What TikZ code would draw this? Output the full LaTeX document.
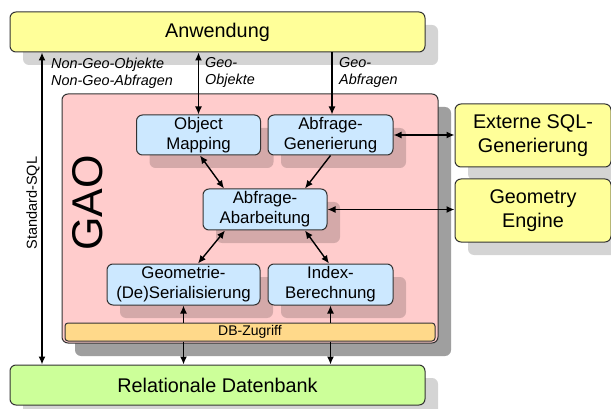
\documentclass[tikz,border=0pt]{standalone}
\usepackage{fontspec}
\setmainfont{Liberation Sans}
\usetikzlibrary{shadows,arrows.meta,calc}
\definecolor{cyel}{HTML}{FFFF99}
\definecolor{cpink}{HTML}{FFCCCC}
\definecolor{cblue}{HTML}{CCE8FF}
\definecolor{cgreen}{HTML}{CCFF99}
\definecolor{corange}{HTML}{FFD98A}
\definecolor{cline}{HTML}{333333}
\tikzset{
  box/.style={draw=cline, line width=1pt, rounded corners=6pt, inner sep=0pt, align=center,
    drop shadow={shadow xshift=13pt, shadow yshift=-13pt, opacity=0.17, fill=black}},
  bigfont/.style={font=\fontsize{19.8}{24}\selectfont},
  bigbox/.style={box, fill=cyel, bigfont},
  subbox/.style={box, fill=cblue, font=\fontsize{16.8}{20}\selectfont, minimum height=41pt},
  conn/.style={line width=1.4pt, black},
  biarr/.style={conn, {Latex[length=8pt,width=7pt]}-{Latex[length=8pt,width=7pt]}},
  onearr/.style={conn, -{Latex[length=8pt,width=7pt]}},
  lbl/.style={font=\fontsize{14.4}{17}\selectfont\itshape, align=left, inner sep=0pt}
}
\begin{document}
\begin{tikzpicture}[x=1pt,y=-1pt]
\useasboundingbox (0,0) rectangle (611,409);
% main boxes
\node[box, fill=cpink, minimum width=376pt, minimum height=249pt,
  drop shadow={shadow xshift=13pt, shadow yshift=-13pt, opacity=0.25, fill=black}] (gao) at (250,218.5) {};
\node[bigbox, minimum width=415pt, minimum height=40pt] (anw) at (217.5,32) {Anwendung};
\node[box, fill=cgreen, bigfont, minimum width=415pt, minimum height=40pt] (rel) at (217.5,385) {Relationale Datenbank};
\node[bigbox, minimum width=156pt, minimum height=63pt] (ext) at (533,135.5) {Externe SQL-\\Generierung};
\node[bigbox, minimum width=156pt, minimum height=63pt] (geo) at (533,210.5) {Geometry\\Engine};
% GAO label
\node[rotate=90, font=\fontsize{43}{43}\selectfont, inner sep=0pt] (gaolbl) at (88,203) {GAO};
% sub boxes
\node[subbox, minimum width=124pt, minimum height=40pt] (om) at (198.5,135) {Object\\Mapping};
\node[subbox, minimum width=125pt, minimum height=40pt] (ag) at (330.5,135) {Abfrage-\\Generierung};
\node[subbox, minimum width=124pt, minimum height=41pt] (aa) at (265,209.5) {Abfrage-\\Abarbeitung};
\node[subbox, minimum width=153pt, minimum height=41pt] (gs) at (183.5,284.5) {Geometrie-\\(De)Serialisierung};
\node[subbox, minimum width=125pt, minimum height=41pt] (idx) at (330.5,284.5) {Index-\\Berechnung};
\node[draw=cline, line width=1pt, rounded corners=3pt, fill=corange, minimum width=370pt, minimum height=18pt, inner sep=0pt, font=\fontsize{14}{16}\selectfont] (db) at (250,332) {DB-Zugriff};
% connectors
\coordinate (sqla) at (42,52);
\coordinate (sqlb) at (42,365);
\draw[biarr] (anw.south -| sqla) -- (rel.north -| sqlb);
\node[rotate=90, font=\fontsize{14.5}{17}\selectfont, inner sep=0pt] (sqllbl) at (33,203) {Standard-SQL};
\draw[biarr] (om.north |- anw.south) -- (om.north);
\coordinate (gq) at (332,0);
\draw[onearr] (anw.south -| gq) -- (ag.north -| gq);
\node[lbl, anchor=north west] (l1) at (51,57.5) {Non-Geo-Objekte\\Non-Geo-Abfragen};
\node[lbl, anchor=north west] (l2) at (205,57.5) {Geo-\\Objekte};
\node[lbl, anchor=north west] (l3) at (339,57.5) {Geo-\\Abfragen};
\draw[biarr] (ag.east) -- (ext.west |- ag.east);
\draw[biarr] (aa.east) -- (geo.west |- aa.east);
\draw[biarr] ($(om.south)+(1.5,0)$) -- ($(aa.north)+(-41,0)$);
\draw[onearr] ($(ag.south)+(0,0)$) -- ($(aa.north)+(40,0)$);
\draw[biarr] ($(aa.south)+(-40,0)$) -- ($(gs.north)+(14.5,0)$);
\draw[biarr] ($(aa.south)+(40,0)$) -- ($(idx.north)+(-1.5,0)$);
\draw[onearr] (gs.south |- db.north) -- (gs.south);
\draw[onearr] (idx.south |- db.north) -- (idx.south);
\draw[onearr] (gs.south |- db.south) -- (gs.south |- rel.north);
\draw[onearr] (idx.south |- db.south) -- (idx.south |- rel.north);
\end{tikzpicture}
\end{document}
